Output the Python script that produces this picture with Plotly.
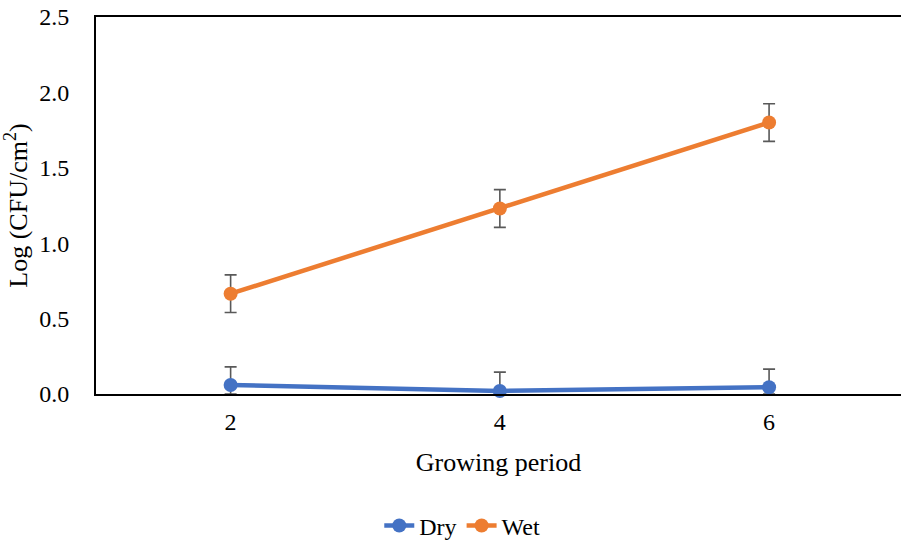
import plotly.graph_objects as go

# Growing period (x) and log counts with their standard errors
periods = [2, 4, 6]
dry_values = [0.06, 0.02, 0.045]
dry_errors = [0.12, 0.125, 0.12]
wet_values = [0.665, 1.23, 1.80]
wet_errors = [0.125, 0.125, 0.125]

BLUE = "#4472C4"
ORANGE = "#ED7D31"
ERR_GREY = "#595959"
FONT = "Liberation Serif"


def series(name, values, errors, color):
    # the lower whisker stops at the x axis (log counts cannot go below 0 here)
    lower = [min(e, v) for e, v in zip(errors, values)]
    return go.Scatter(
        x=periods,
        y=values,
        name=name,
        mode="lines+markers",
        line=dict(color=color, width=4.5),
        marker=dict(color=color, size=14),
        error_y=dict(
            type="data",
            symmetric=False,
            array=errors,
            arrayminus=lower,
            color=ERR_GREY,
            thickness=1.6,
            width=6,
        ),
        cliponaxis=False,
    )


fig = go.Figure()
fig.add_trace(series("Dry", dry_values, dry_errors, BLUE))
fig.add_trace(series("Wet", wet_values, wet_errors, ORANGE))

fig.update_layout(
    width=901,
    height=542,
    margin=dict(l=96, r=0, t=17, b=148, autoexpand=False),
    paper_bgcolor="white",
    plot_bgcolor="white",
    font=dict(family=FONT, color="black", size=22),
    showlegend=True,
    legend=dict(
        orientation="h",
        x=0.455,
        xanchor="center",
        y=-0.35,
        yanchor="middle",
        font=dict(size=24, family=FONT, color="black"),
        itemwidth=30,
    ),
)

fig.update_xaxes(
    range=[1, 6.98],
    tickvals=periods,
    ticktext=[str(p) for p in periods],
    showgrid=False,
    zeroline=False,
    showline=True,
    linecolor="black",
    linewidth=2,
    mirror=True,
    ticks="",
    ticklabelstandoff=5,
    tickfont=dict(size=24, family=FONT, color="black"),
    title=dict(text="Growing period", font=dict(size=26, family=FONT, color="black"), standoff=19),
)

fig.update_yaxes(
    range=[0, 2.5],
    tickvals=[0, 0.5, 1.0, 1.5, 2.0, 2.5],
    ticktext=["0.0", "0.5", "1.0", "1.5", "2.0", "2.5"],
    showgrid=False,
    zeroline=False,
    showline=True,
    linecolor="black",
    linewidth=2,
    ticks="",
    ticklabelstandoff=20,
    tickfont=dict(size=24, family=FONT, color="black"),
    title=dict(text="Log (CFU/cm<sup>2</sup>)", font=dict(size=26, family=FONT, color="black"), standoff=6),
)

fig.write_html("out.html")
